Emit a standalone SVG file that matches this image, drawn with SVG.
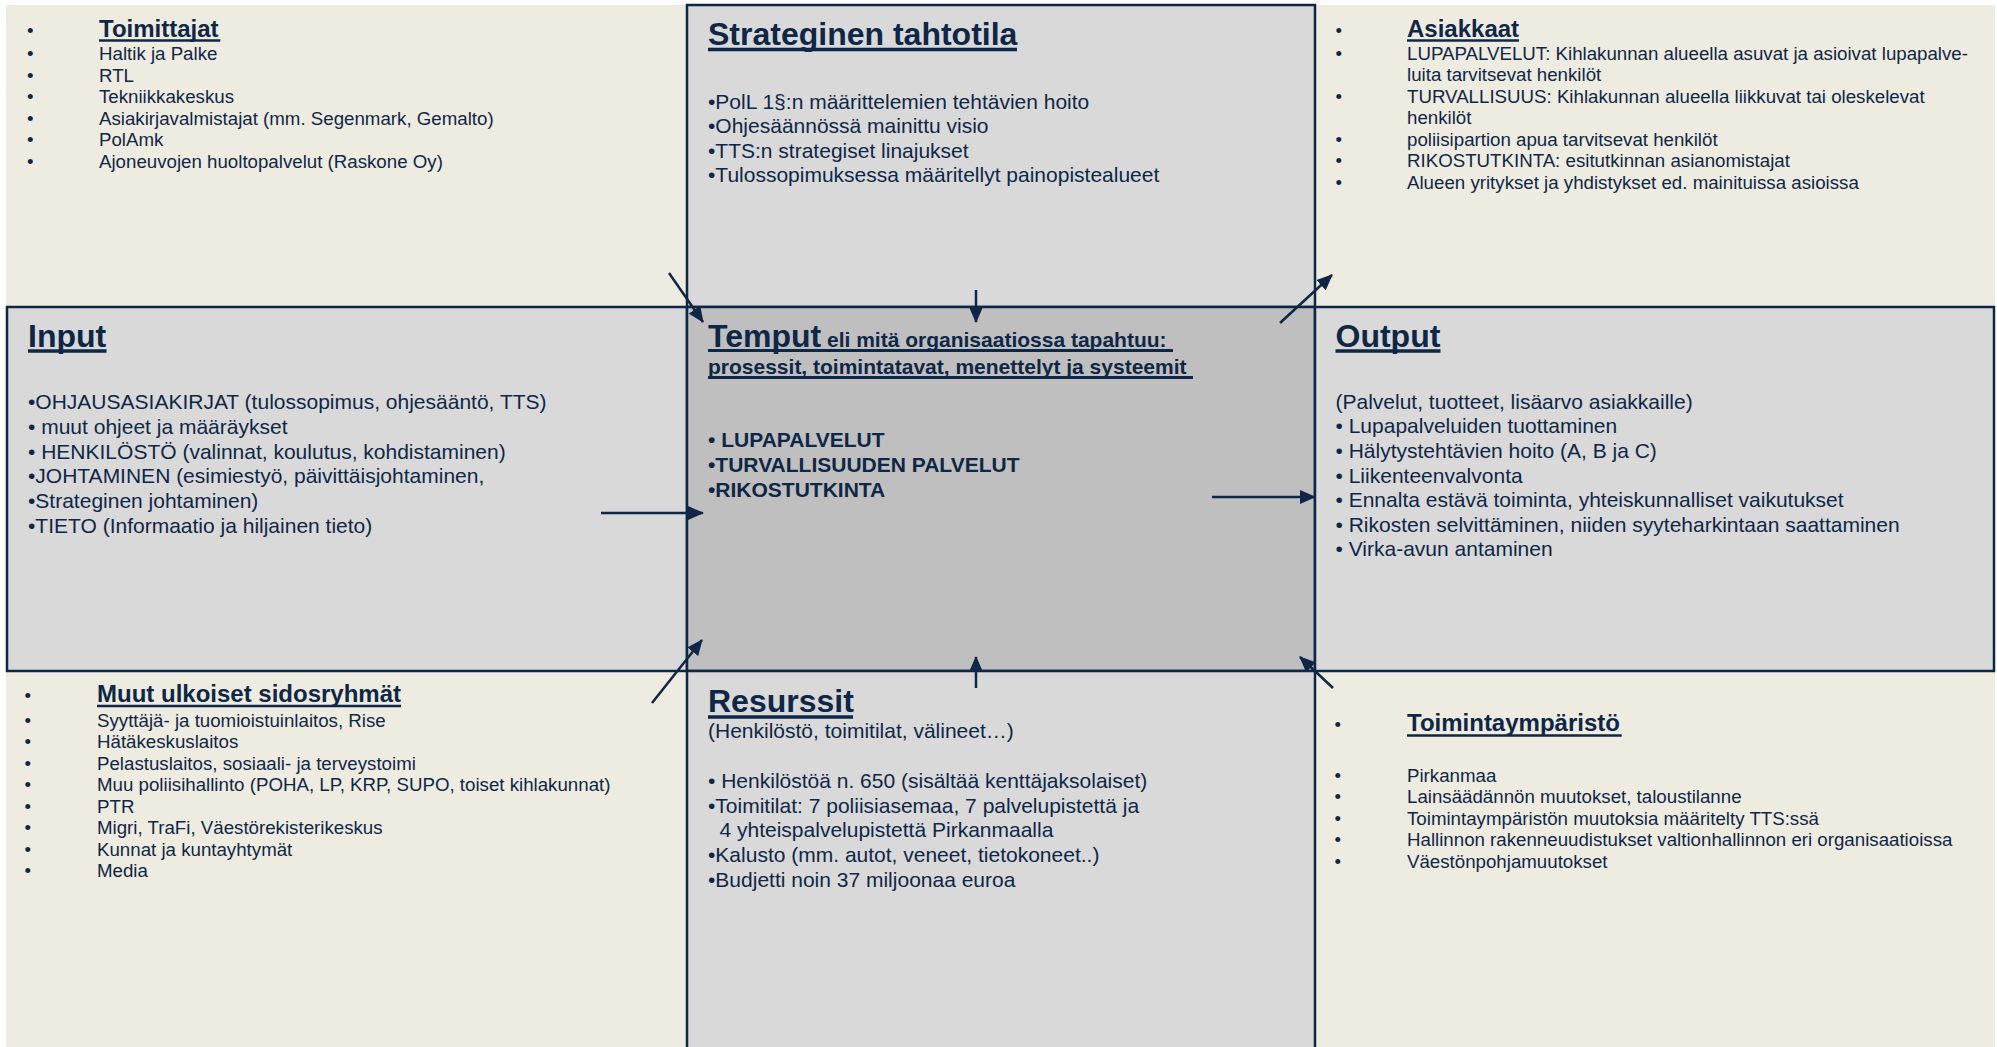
<svg xmlns="http://www.w3.org/2000/svg" width="1997" height="1047" viewBox="0 0 1997 1047">
<style>
  text { font-family: "Liberation Sans", Arial, sans-serif; fill: #0F2747; }
  .s { font-size: 18.7px; }
  .m { font-size: 21px; }
  .mb { font-size: 21px; font-weight: bold; }
  .t24 { font-size: 24px; font-weight: bold; }
  .t32 { font-size: 32px; font-weight: bold; }
  .box { stroke: #0F2747; stroke-width: 2.5; }
  .light { fill: #D9D9D9; }
  .dark { fill: #BFBFBF; }
  .ul { stroke: #0F2747; }
  .conn line { stroke: #0F2747; stroke-width: 2.5; marker-end: url(#ah); }
</style>
<defs>
  <marker id="ah" viewBox="0 0 16 14" refX="15" refY="7" markerWidth="16" markerHeight="14" orient="auto" markerUnits="userSpaceOnUse">
    <path d="M0,0 L16,7 L0,14 z" fill="#0F2747"/>
  </marker>
</defs>
<rect x="0" y="0" width="1997" height="1047" fill="#FFFFFF"/>
<rect id="background" x="6" y="5" width="1989" height="1042" fill="#EEEBE0"/>

<g id="toimittajat">
  <text class="s" x="27" y="37">•</text>
  <text class="t24" x="99" y="37">Toimittajat</text>
  <line class="ul" x1="99" y1="40.5" x2="220.3" y2="40.5" stroke-width="2.5"/>
  <text class="s" x="27" y="60">•</text><text class="s" x="99" y="60">Haltik ja Palke</text>
  <text class="s" x="27" y="81.5">•</text><text class="s" x="99" y="81.5">RTL</text>
  <text class="s" x="27" y="103">•</text><text class="s" x="99" y="103">Tekniikkakeskus</text>
  <text class="s" x="27" y="124.5">•</text><text class="s" x="99" y="124.5">Asiakirjavalmistajat (mm. Segenmark, Gemalto)</text>
  <text class="s" x="27" y="146">•</text><text class="s" x="99" y="146">PolAmk</text>
  <text class="s" x="27" y="167.5">•</text><text class="s" x="99" y="167.5">Ajoneuvojen huoltopalvelut (Raskone Oy)</text>
</g>

<g id="asiakkaat">
  <text class="s" x="1335.5" y="37">•</text>
  <text class="t24" x="1407" y="37">Asiakkaat</text>
  <line class="ul" x1="1407" y1="40.5" x2="1519" y2="40.5" stroke-width="2.5"/>
  <text class="s" x="1335.5" y="59.5">•</text><text class="s" x="1407" y="59.5">LUPAPALVELUT: Kihlakunnan alueella asuvat ja asioivat lupapalve-</text>
  <text class="s" x="1407" y="80.5">luita tarvitsevat henkilöt</text>
  <text class="s" x="1335.5" y="102.5">•</text><text class="s" x="1407" y="102.5">TURVALLISUUS: Kihlakunnan alueella liikkuvat tai oleskelevat</text>
  <text class="s" x="1407" y="123.5">henkilöt</text>
  <text class="s" x="1335.5" y="145.5">•</text><text class="s" x="1407" y="145.5">poliisipartion apua tarvitsevat henkilöt</text>
  <text class="s" x="1335.5" y="167">•</text><text class="s" x="1407" y="167">RIKOSTUTKINTA: esitutkinnan asianomistajat</text>
  <text class="s" x="1335.5" y="189">•</text><text class="s" x="1407" y="189">Alueen yritykset ja yhdistykset ed. mainituissa asioissa</text>
</g>

<g id="muut-sidosryhmat">
  <text class="s" x="24.5" y="701.5">•</text>
  <text class="t24" x="97" y="701.5">Muut ulkoiset sidosryhmät</text>
  <line class="ul" x1="97" y1="706" x2="401" y2="706" stroke-width="2.5"/>
  <text class="s" x="24.5" y="726.5">•</text><text class="s" x="97" y="726.5">Syyttäjä- ja tuomioistuinlaitos, Rise</text>
  <text class="s" x="24.5" y="748">•</text><text class="s" x="97" y="748">Hätäkeskuslaitos</text>
  <text class="s" x="24.5" y="769.5">•</text><text class="s" x="97" y="769.5">Pelastuslaitos, sosiaali- ja terveystoimi</text>
  <text class="s" x="24.5" y="791">•</text><text class="s" x="97" y="791">Muu poliisihallinto (POHA, LP, KRP, SUPO, toiset kihlakunnat)</text>
  <text class="s" x="24.5" y="812.5">•</text><text class="s" x="97" y="812.5">PTR</text>
  <text class="s" x="24.5" y="834">•</text><text class="s" x="97" y="834">Migri, TraFi, Väestörekisterikeskus</text>
  <text class="s" x="24.5" y="855.5">•</text><text class="s" x="97" y="855.5">Kunnat ja kuntayhtymät</text>
  <text class="s" x="24.5" y="877">•</text><text class="s" x="97" y="877">Media</text>
</g>

<g id="toimintaymparisto">
  <text class="s" x="1334.5" y="730.5">•</text>
  <text class="t24" x="1407" y="730.5">Toimintaympäristö</text>
  <line class="ul" x1="1407" y1="735.5" x2="1621.7" y2="735.5" stroke-width="2.5"/>
  <text class="s" x="1334.5" y="781.5">•</text><text class="s" x="1407" y="781.5">Pirkanmaa</text>
  <text class="s" x="1334.5" y="803">•</text><text class="s" x="1407" y="803">Lainsäädännön muutokset, taloustilanne</text>
  <text class="s" x="1334.5" y="824.5">•</text><text class="s" x="1407" y="824.5">Toimintaympäristön muutoksia määritelty TTS:ssä</text>
  <text class="s" x="1334.5" y="846">•</text><text class="s" x="1407" y="846">Hallinnon rakenneuudistukset valtionhallinnon eri organisaatioissa</text>
  <text class="s" x="1334.5" y="867.5">•</text><text class="s" x="1407" y="867.5">Väestönpohjamuutokset</text>
</g>

<g id="strateginen-tahtotila">
  <rect class="box light" x="687" y="5" width="628" height="302"/>
  <text class="t32" x="708" y="45">Strateginen tahtotila</text>
  <line class="ul" x1="708" y1="49.5" x2="1017" y2="49.5" stroke-width="3.5"/>
  <text class="m" x="708" y="108.5">•PolL 1§:n määrittelemien tehtävien hoito</text>
  <text class="m" x="708" y="133">•Ohjesäännössä mainittu visio</text>
  <text class="m" x="708" y="157.5">•TTS:n strategiset linajukset</text>
  <text class="m" x="708" y="182">•Tulossopimuksessa määritellyt painopistealueet</text>
</g>

<g id="input">
  <rect class="box light" x="7" y="307" width="680" height="364"/>
  <text class="t32" x="28" y="346.5">Input</text>
  <line class="ul" x1="28" y1="351" x2="106.5" y2="351" stroke-width="3.5"/>
  <text class="m" x="28" y="409">•OHJAUSASIAKIRJAT (tulossopimus, ohjesääntö, TTS)</text>
  <text class="m" x="28" y="433.5">• muut ohjeet ja määräykset</text>
  <text class="m" x="28" y="458.5">• HENKILÖSTÖ (valinnat, koulutus, kohdistaminen)</text>
  <text class="m" x="28" y="483">•JOHTAMINEN (esimiestyö, päivittäisjohtaminen,</text>
  <text class="m" x="28" y="508">•Strateginen johtaminen)</text>
  <text class="m" x="28" y="533">•TIETO (Informaatio ja hiljainen tieto)</text>
</g>

<g id="temput">
  <rect class="box dark" x="687" y="307" width="628" height="364"/>
  <text x="708" y="346.5"><tspan class="t32">Temput</tspan><tspan class="mb"> eli mitä organisaatiossa tapahtuu:</tspan></text>
  <line class="ul" x1="708" y1="350.5" x2="1173" y2="350.5" stroke-width="3"/>
  <text class="mb" x="708" y="373.5">prosessit, toimintatavat, menettelyt ja systeemit</text>
  <line class="ul" x1="708" y1="377.5" x2="1193" y2="377.5" stroke-width="3"/>
  <text class="mb" x="708" y="446.5">• LUPAPALVELUT</text>
  <text class="mb" x="708" y="471.5">•TURVALLISUUDEN PALVELUT</text>
  <text class="mb" x="708" y="497">•RIKOSTUTKINTA</text>
</g>

<g id="output">
  <rect class="box light" x="1315" y="307" width="679" height="364"/>
  <text class="t32" x="1335.5" y="346.5">Output</text>
  <line class="ul" x1="1335.5" y1="351" x2="1440.5" y2="351" stroke-width="3.5"/>
  <text class="m" x="1335.5" y="408.5">(Palvelut, tuotteet, lisäarvo asiakkaille)</text>
  <text class="m" x="1335.5" y="433">• Lupapalveluiden tuottaminen</text>
  <text class="m" x="1335.5" y="458">• Hälytystehtävien hoito (A, B ja C)</text>
  <text class="m" x="1335.5" y="482.5">• Liikenteenvalvonta</text>
  <text class="m" x="1335.5" y="507">• Ennalta estävä toiminta, yhteiskunnalliset vaikutukset</text>
  <text class="m" x="1335.5" y="531.5">• Rikosten selvittäminen, niiden syyteharkintaan saattaminen</text>
  <text class="m" x="1335.5" y="556">• Virka-avun antaminen</text>
</g>

<g id="resurssit">
  <rect class="box light" x="687" y="671" width="628" height="385"/>
  <text class="t32" x="708" y="711.5">Resurssit</text>
  <line class="ul" x1="708" y1="717" x2="853" y2="717" stroke-width="3.5"/>
  <text class="m" x="708" y="738">(Henkilöstö, toimitilat, välineet…)</text>
  <text class="m" x="708" y="788">• Henkilöstöä n. 650 (sisältää kenttäjaksolaiset)</text>
  <text class="m" x="708" y="813">•Toimitilat: 7 poliisiasemaa, 7 palvelupistettä ja</text>
  <text class="m" x="719.5" y="837">4 yhteispalvelupistettä Pirkanmaalla</text>
  <text class="m" x="708" y="861.5">•Kalusto (mm. autot, veneet, tietokoneet..)</text>
  <text class="m" x="708" y="886.5">•Budjetti noin 37 miljoonaa euroa</text>
</g>

<g id="connectors" class="conn">
  <line x1="669" y1="273" x2="703" y2="322"/>
  <line x1="976" y1="290" x2="976" y2="322"/>
  <line x1="1280" y1="323" x2="1332" y2="275"/>
  <line x1="601" y1="513" x2="703" y2="513"/>
  <line x1="1212" y1="497" x2="1315" y2="497"/>
  <line x1="652" y1="703" x2="702" y2="640"/>
  <line x1="976" y1="688" x2="976" y2="657"/>
  <line x1="1333" y1="688" x2="1300" y2="657"/>
</g>
</svg>
